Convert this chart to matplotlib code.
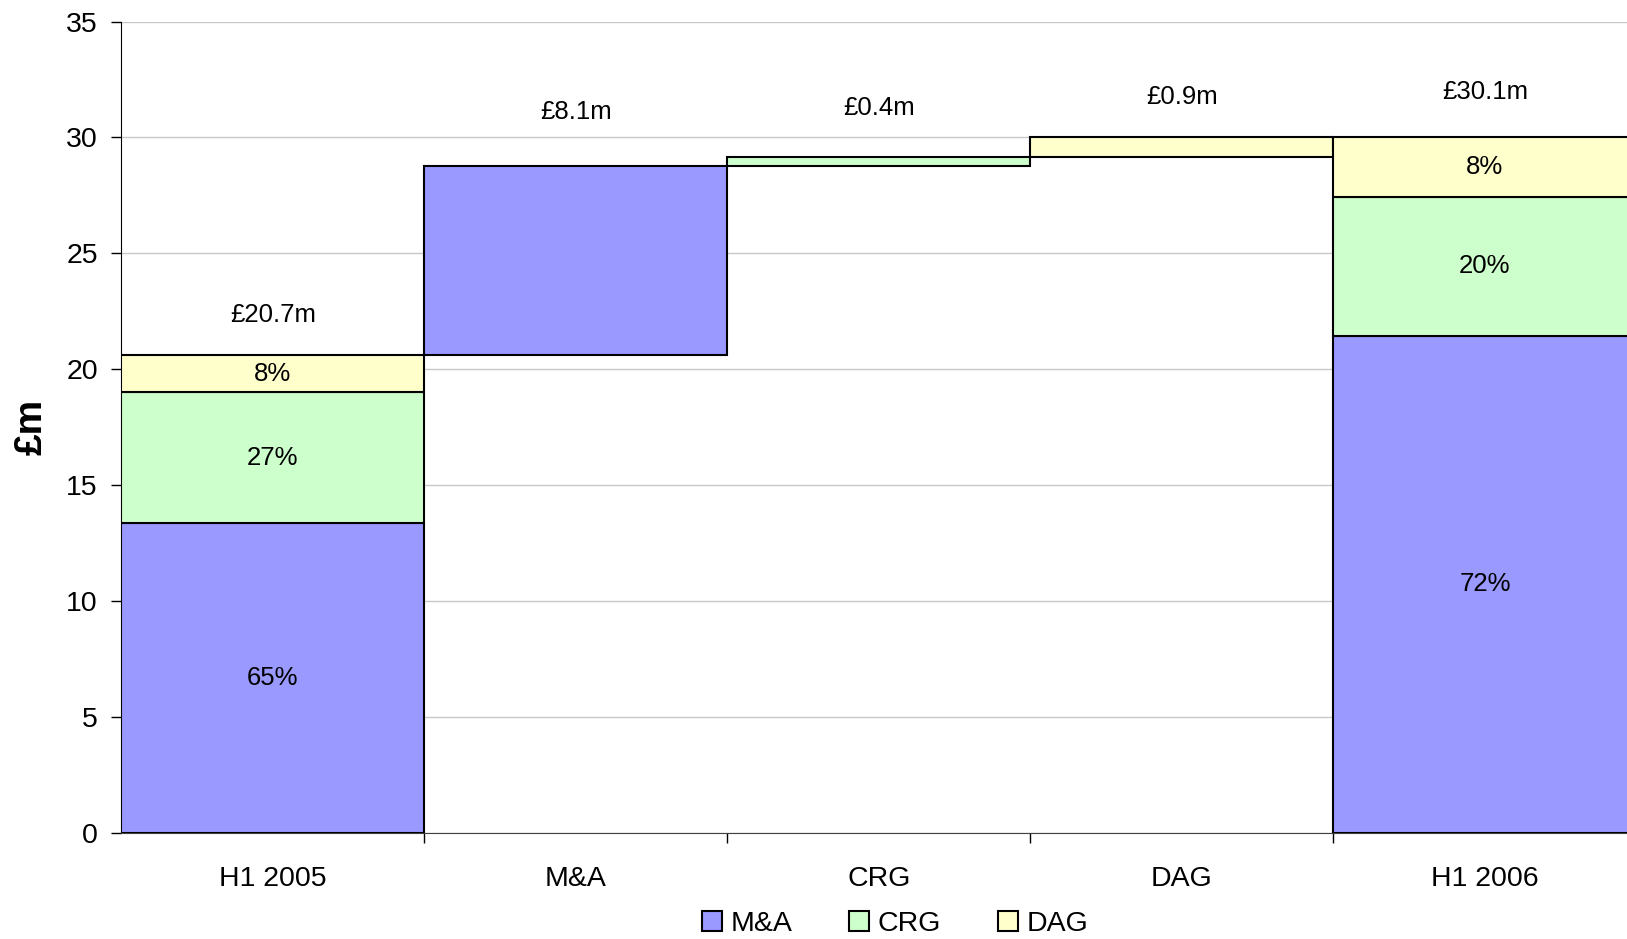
import matplotlib
matplotlib.use("Agg")
import matplotlib.pyplot as plt
from matplotlib.patches import Patch
import numpy as np

plt.rcParams['font.family'] = ['Liberation Sans', 'DejaVu Sans']

# data (£m)
categories = ['H1 2005', 'M&A', 'CRG', 'DAG', 'H1 2006']
segments = ['M&A', 'CRG', 'DAG']
h1_2005 = [13.35, 5.65, 1.6]
changes = [8.15, 0.4, 0.85]          # M&A, CRG, DAG steps
h1_2006 = [21.45, 6.0, 2.55]
pct_2005 = ['65%', '27%', '8%']
pct_2006 = ['72%', '20%', '8%']
total_labels = ['£20.7m', '£8.1m', '£0.4m', '£0.9m', '£30.1m']

colors = ['#9999FF', '#CCFFCC', '#FFFFCC']

fig = plt.figure(figsize=(16.27, 9.39), dpi=100)
ax = fig.add_axes([0.0746, 0.1134, 1.0058 - 0.0746, 0.8636])

x = np.arange(len(categories))
bar_kw = dict(width=1.0, edgecolor='black', linewidth=1.5, zorder=3)

# H1 2005 stacked
bottom = 0
for v, c, p in zip(h1_2005, colors, pct_2005):
    ax.bar(x[0], v, bottom=bottom, color=c, **bar_kw)
    ax.text(x[0], bottom + v / 2, p, ha='center', va='center', fontsize=18.5, zorder=4)
    bottom += v
tops = [bottom]

# waterfall steps
for i, (v, c) in enumerate(zip(changes, colors)):
    ax.bar(x[i + 1], v, bottom=bottom, color=c, **bar_kw)
    bottom += v
    tops.append(bottom)

# H1 2006 stacked
bottom = 0
for v, c, p in zip(h1_2006, colors, pct_2006):
    ax.bar(x[4], v, bottom=bottom, color=c, **bar_kw)
    ax.text(x[4], bottom + v / 2, p, ha='center', va='center', fontsize=18.5, zorder=4)
    bottom += v
tops.append(bottom)

# small per-label nudges so the totals sit as in the original
label_gap = [1.75, 2.35, 2.1, 1.75, 1.95]
for xi, t, lab, g in zip(x, tops, total_labels, label_gap):
    ax.text(xi, t + g, lab, ha='center', va='center', fontsize=18.5)

ax.set_xlim(-0.5, 4.5)
ax.set_ylim(0, 35)
ax.set_yticks(range(0, 36, 5))
ax.yaxis.grid(True, color='#c8c8c8', linewidth=1)
ax.set_axisbelow(True)
ax.tick_params(axis='y', labelsize=20.5, length=7, width=1, pad=10)

ax.set_xticks(x)
ax.set_xticklabels(categories)
ax.set_xticks(x[:-1] + 0.5, minor=True)
ax.tick_params(axis='x', which='major', length=0, labelsize=20.5, pad=24)
ax.tick_params(axis='x', which='minor', length=7, width=1)

for s in ['top', 'right']:
    ax.spines[s].set_visible(False)
ax.spines['left'].set_color('black')
ax.spines['bottom'].set_color('#404040')

ax.set_ylabel('£m', fontsize=28, fontweight='bold', labelpad=12)

handles = [Patch(facecolor=c, edgecolor='black', linewidth=1.5) for c in colors]
fig.legend(handles, segments, loc='center', bbox_to_anchor=(0.55, 0.016), ncol=3,
           frameon=False, fontsize=20.5, handlelength=0.7, handleheight=0.7,
           handletextpad=0.3, columnspacing=2.0)

fig.savefig('out.png', dpi=100)
